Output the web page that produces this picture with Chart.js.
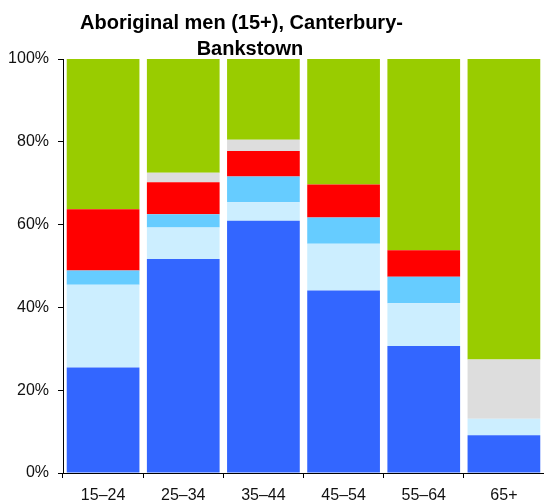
<!DOCTYPE html>
<html>
<head>
<meta charset="utf-8">
<script src="https://cdn.jsdelivr.net/npm/chart.js@4.4.1/dist/chart.umd.min.js"></script>
<style>
  html, body { margin: 0; padding: 0; background: #fff; overflow: hidden; }
  #wrap { width: 544px; height: 504px; position: relative; }
</style>
</head>
<body>
<div id="wrap"><canvas id="chart"></canvas></div>
<script>
'use strict';

// Datos (% por grupo de edad)
const ageGroups = ['15–24', '25–34', '35–44', '45–54', '55–64', '65+'];
const titleLines = ['Aboriginal men (15+), Canterbury-', 'Bankstown'];

const blueVals  = [25.5, 51.7, 60.9, 44.1, 30.7,  9.1];
const lightVals = [20.0,  7.6,  4.5, 11.3, 10.3,  4.0];
const skyVals   = [ 3.4,  3.2,  6.2,  6.3,  6.4,  0.0];
const redVals   = [14.8,  7.7,  6.2,  8.0,  6.4,  0.0];
const greyVals  = [ 0.0,  2.3,  2.7,  0.0,  0.0, 14.3];
const greenVals = [36.3, 27.5, 19.5, 30.3, 46.2, 72.6];

const yTicks = [0, 20, 40, 60, 80, 100];

const seriesColors = ['#3366ff', '#cceeff', '#66ccff', '#ff0000', '#dddddd', '#99cc00'];

(function() {
    const series = [blueVals, lightVals, skyVals, redVals, greyVals, greenVals];

    // Título dibujado a mano (dos líneas con centros distintos)
    const titlePlugin = {
        id: 'manualTitle',
        afterDraw(chart) {
            const ctx = chart.ctx;
            ctx.save();
            ctx.fillStyle = '#000';
            ctx.font = 'bold 20px "Liberation Sans", Arial, sans-serif';
            ctx.textAlign = 'center';
            ctx.textBaseline = 'alphabetic';
            ctx.fillText(titleLines[0], 241.5, 29);
            ctx.fillText(titleLines[1], 250, 55);
            ctx.restore();
        }
    };

    const ctx = document.getElementById('chart').getContext('2d');

    new Chart(ctx, {
        type: 'bar',
        data: {
            labels: ageGroups,
            datasets: series.map((vals, i) => ({
                data: vals,
                backgroundColor: seriesColors[i],
                borderWidth: 0,
                barPercentage: 0.907,
                categoryPercentage: 1.0
            }))
        },
        options: {
            responsive: true,
            maintainAspectRatio: false,
            animation: false,
            layout: { padding: { top: 59, right: 0, bottom: 0, left: 0 } },
            plugins: {
                legend: { display: false },
                title: { display: false },
                tooltip: { enabled: false }
            },
            scales: {
                x: {
                    stacked: true,
                    grid: {
                        drawOnChartArea: false,
                        drawTicks: true,
                        tickLength: 5,
                        color: '#000'
                    },
                    border: { display: true, color: '#000', width: 1 },
                    ticks: {
                        color: '#111',
                        padding: 8,
                        maxRotation: 0,
                        font: { family: '"Liberation Sans Narrow", "Liberation Sans", Arial, sans-serif', size: 16 }
                    },
                    afterFit: s => { s.height = 31; }
                },
                y: {
                    stacked: true,
                    min: 0,
                    max: 100,
                    afterBuildTicks: s => { s.ticks = yTicks.map(v => ({ value: v })); },
                    grid: {
                        drawOnChartArea: false,
                        drawTicks: true,
                        tickLength: 5,
                        color: '#000'
                    },
                    border: { display: true, color: '#000', width: 1 },
                    ticks: {
                        color: '#111',
                        padding: 9,
                        font: { family: '"Liberation Sans", Arial, sans-serif', size: 16 },
                        callback: v => v + '%'
                    },
                    afterFit: s => { s.width = 63; }
                }
            }
        },
        plugins: [titlePlugin]
    });
})();
</script>
</body>
</html>
